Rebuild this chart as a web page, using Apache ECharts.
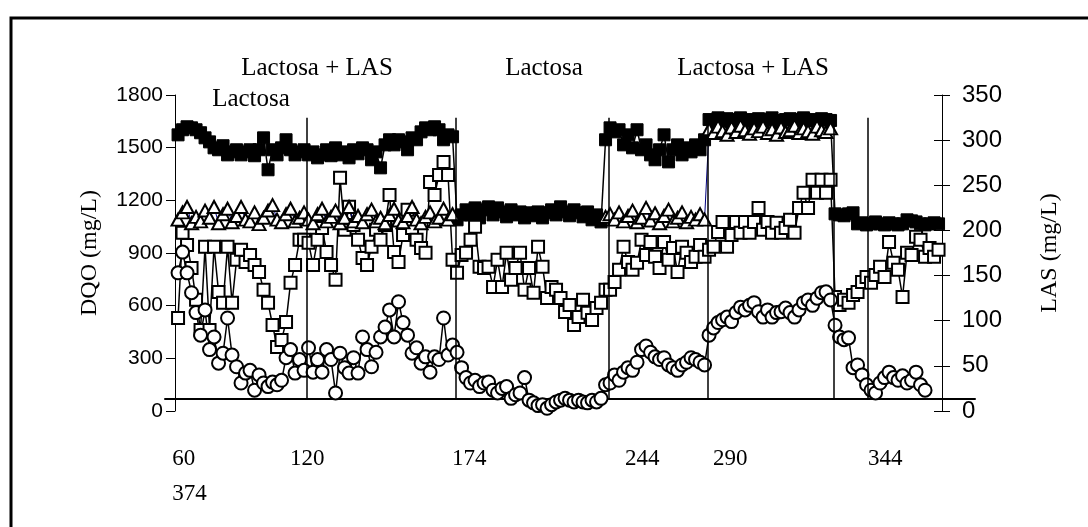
<!DOCTYPE html>
<html>
<head>
<meta charset="utf-8">
<script src="https://cdn.jsdelivr.net/npm/echarts@6/dist/echarts.min.js"></script>
<style>
  html, body { margin: 0; padding: 0; background: #fff; }
  #chart { width: 1088px; height: 527px; }
</style>
</head>
<body>
<div id="chart"></div>
<script>
// DQO (mg/L), afluente y efluente, una medida por muestra
const dqoAfluente = [
  1573,1602,1619,1613,1602,1585,1556,1533,1499,1488,1511,1459,1476,1488,1459,1476,1488,1454,1488,1556,1374,1488,1459,1499,1545,1488,1459,1476,1488,
  1459,1476,1442,1459,1488,1454,1499,1459,1476,1442,1488,1465,1499,1488,1431,1476,1385,1516,1545,1516,1545,1533,1488,1556,1545,1590,1613,1602,1619,1602,1545,1573,1562,
  1089,1117,1146,1117,1157,1100,1146,1163,1117,1157,1134,1106,1146,1117,1134,1100,1129,1112,1134,1100,1129,1146,1117,1163,1134,1112,1146,1129,1106,1134,1089,1117,1077,1545,
  1613,1590,1602,1516,1573,1499,1602,1488,1516,1459,1431,1488,1573,1419,1488,1516,1459,1499,1476,1516,1488,1545,
  1660,1650,1670,1655,1665,1645,1660,1670,1650,1660,1655,1665,1650,1660,1670,1655,1645,1660,1665,1650,1660,1670,1655,1660,1650,1665,1660,1655,
  1123,1117,1112,1123,1129,1066,1072,1060,1066,1077,1066,1060,1072,1066,1060,1066,1089,1083,1077,1066,1060,1066,1072,1066
];
const dqoEfluente = [
  530,1015,946,815,633,462,935,462,935,678,616,935,616,861,918,849,889,832,792,690,616,490,365,405,507,730,832,975,975,
  958,832,975,1043,906,832,747,1328,1032,1163,1060,975,872,832,935,1032,975,1060,1231,906,849,1003,1146,1043,975,929,901,1305,1231,1345,1419,1345,861,
  787,889,901,975,1049,821,815,821,707,861,707,901,747,815,901,690,815,673,935,821,644,707,690,644,564,604,490,536,633,559,519,587,616,690,
  690,735,804,935,849,804,844,975,889,963,878,815,963,861,929,792,935,901,849,878,946,878,
  918,935,1020,1077,935,1003,1077,1015,1077,1015,1077,1157,1032,1077,1015,1072,1015,1043,1089,1015,1157,1243,1157,1317,1243,1317,1243,1317,
  650,604,633,616,661,678,735,764,730,775,821,764,963,844,804,650,901,889,992,975,878,929,878,918
];
// LAS (mg/L), afluente y efluente
const lasAfluente = [
  212,220,226,208,215,210,222,214,226,208,218,224,209,216,226,212,210,220,207,214,222,228,212,209,218,224,210,214,220,
  212,208,218,224,210,215,222,208,214,226,210,216,209,218,223,210,214,208,217,224,211,209,216,226,212,208,215,220,210,214,224,212,218,
  null,null,null,null,null,null,null,null,null,null,null,null,null,null,null,null,null,null,null,null,null,null,null,null,null,null,null,null,null,null,null,null,null,215,
  218,212,220,210,216,222,209,214,225,211,219,208,216,223,210,214,220,209,215,212,218,212,
  312,308,315,310,306,314,309,316,311,307,313,310,315,308,312,306,314,309,311,316,308,313,310,307,315,311,309,313,
  null,null,null,null,null,null,null,null,null,null,null,null,null,null,null,null,null,null,null,null,null,null,null,null
];
const lasEfluente = [
  153,176,153,131,109,84,112,68,82,53,64,103,62,49,31,42,45,23,40,31,27,32,29,34,59,68,42,57,45,
  70,43,57,43,68,57,20,64,48,42,59,42,82,68,49,65,82,93,112,82,121,98,84,64,70,53,60,43,60,57,103,62,73,
  65,48,37,31,34,27,31,32,23,20,25,27,14,18,20,37,12,9,6,7,3,7,10,12,14,12,10,12,10,9,12,10,14,29,
  31,40,34,43,48,45,54,68,72,65,60,57,59,51,48,45,51,54,59,57,54,51,
  84,92,98,101,104,99,109,115,112,117,120,110,104,112,104,109,110,114,109,104,112,120,123,117,125,131,132,123,
  95,82,79,81,48,51,40,29,23,20,31,37,43,37,34,39,31,34,43,29,23,null,null,null
];

// cambios de alimentación (posición en número de muestra)
const cambiosFase = [28.7, 61.6, 95.6, 117.6, 145.6, 153.3];
// días de operación rotulados bajo el eje
const diasEtiqueta = ['60', '120', '174', '244', '290', '344', '374'];
const diasPosicion = [-1.3, 24.9, 60.9, 99.3, 118.9, 153.3];
// alimentación de cada etapa
const etapas = ['Lactosa', 'Lactosa + LAS', 'Lactosa', 'Lactosa + LAS'];

const serif = '"Liberation Serif", "Times New Roman", serif';
const sans = '"Liberation Sans", Arial, sans-serif';
const pares = arr => arr.map((v, i) => [i, v]);

const chart = echarts.init(document.getElementById('chart'), null, { renderer: 'canvas' });

const option = {
  animation: false,
  backgroundColor: '#fff',
  grid: { left: 165, right: 113, top: 95, bottom: 116 },
  xAxis: {
    type: 'value', min: -2.9, max: 177.1, offset: -12,
    axisLine: { show: true, onZero: false, lineStyle: { color: '#000', width: 2 } },
    axisTick: { show: false },
    splitLine: { show: false },
    axisLabel: {
      customValues: diasPosicion,
      formatter: v => {
        const k = diasPosicion.indexOf(v);
        if (k === 0) return diasEtiqueta[0] + '\n' + diasEtiqueta[diasEtiqueta.length - 1];
        return k >= 0 ? diasEtiqueta[k] : '';
      },
      align: 'left', verticalAlign: 'top', margin: 42, lineHeight: 35,
      fontFamily: serif, fontSize: 23, color: '#000'
    }
  },
  yAxis: [
    {
      type: 'value', min: 0, max: 1800, interval: 300, position: 'left', offset: -10,
      name: 'DQO (mg/L)', nameLocation: 'middle', nameGap: 73, nameRotate: 90,
      nameTextStyle: { fontFamily: serif, fontSize: 24, color: '#000' },
      axisLine: { show: true, onZero: false, lineStyle: { color: '#000', width: 1 } },
      axisTick: { show: true, length: 9, lineStyle: { color: '#000', width: 1 } },
      axisLabel: { fontFamily: sans, fontSize: 21, color: '#000', margin: 12, formatter: v => String(v) },
      splitLine: { show: false }
    },
    {
      type: 'value', min: 0, max: 350, interval: 50, position: 'right', offset: -33,
      name: 'LAS (mg/L)', nameLocation: 'middle', nameGap: 96, nameRotate: 90,
      nameTextStyle: { fontFamily: serif, fontSize: 24, color: '#000' },
      axisLine: { show: true, onZero: false, lineStyle: { color: '#000', width: 1 } },
      axisTick: { show: true, length: 8, lineStyle: { color: '#000', width: 1 } },
      axisLabel: { fontFamily: sans, fontSize: 24, color: '#000', margin: 20, formatter: v => String(v) },
      splitLine: { show: false }
    },
    {
      type: 'value', min: 0, max: 350, interval: 50, position: 'right', offset: -33,
      axisLine: { show: false, onZero: false },
      axisTick: { show: true, inside: true, length: 8, lineStyle: { color: '#000', width: 1 } },
      axisLabel: { show: false },
      splitLine: { show: false }
    }
  ],
  series: [
    {
      name: 'DQO afluente', type: 'line', yAxisIndex: 0, data: pares(dqoAfluente),
      symbol: 'rect', symbolSize: 12, showAllSymbol: true,
      itemStyle: { color: '#000', borderColor: '#000', borderWidth: 1 },
      lineStyle: { color: '#000', width: 1.5 },
      markLine: {
        silent: true, symbol: ['none', 'none'], label: { show: false },
        lineStyle: { color: '#000', width: 1.5, type: 'solid' },
        data: cambiosFase.map(x => [{ coord: [x, 1670] }, { coord: [x, 68] }])
      }
    },
    {
      name: 'DQO efluente', type: 'line', yAxisIndex: 0, data: pares(dqoEfluente),
      symbol: 'rect', symbolSize: 12, showAllSymbol: true,
      itemStyle: { color: '#fff', borderColor: '#000', borderWidth: 2 },
      lineStyle: { color: '#000', width: 1.5 }
    },
    {
      name: 'LAS efluente', type: 'line', yAxisIndex: 1, data: pares(lasEfluente),
      symbol: 'circle', symbolSize: 13, showAllSymbol: true,
      itemStyle: { color: '#fff', borderColor: '#000', borderWidth: 2 },
      lineStyle: { color: '#000', width: 1.5 }
    },
    {
      name: 'LAS afluente', type: 'line', yAxisIndex: 1, data: pares(lasAfluente),
      symbol: 'triangle', symbolSize: [13, 12], showAllSymbol: true,
      itemStyle: { color: '#fff', borderColor: '#000', borderWidth: 2 },
      lineStyle: { color: '#000080', width: 1 }
    }
  ],
  graphic: [
    { type: 'rect', z: 100, silent: true,
      shape: { x: 11, y: 18, width: 1100, height: 600 },
      style: { fill: 'none', stroke: '#000', lineWidth: 3 } },
    { type: 'text', x: 317, y: 68, style: { text: etapas[1], font: '25px ' + serif, fill: '#000', textAlign: 'center', textVerticalAlign: 'middle' } },
    { type: 'text', x: 251, y: 99, style: { text: etapas[0], font: '25px ' + serif, fill: '#000', textAlign: 'center', textVerticalAlign: 'middle' } },
    { type: 'text', x: 544, y: 68, style: { text: etapas[2], font: '25px ' + serif, fill: '#000', textAlign: 'center', textVerticalAlign: 'middle' } },
    { type: 'text', x: 753, y: 68, style: { text: etapas[3], font: '25px ' + serif, fill: '#000', textAlign: 'center', textVerticalAlign: 'middle' } }
  ]
};

chart.setOption(option);
</script>
</body>
</html>
